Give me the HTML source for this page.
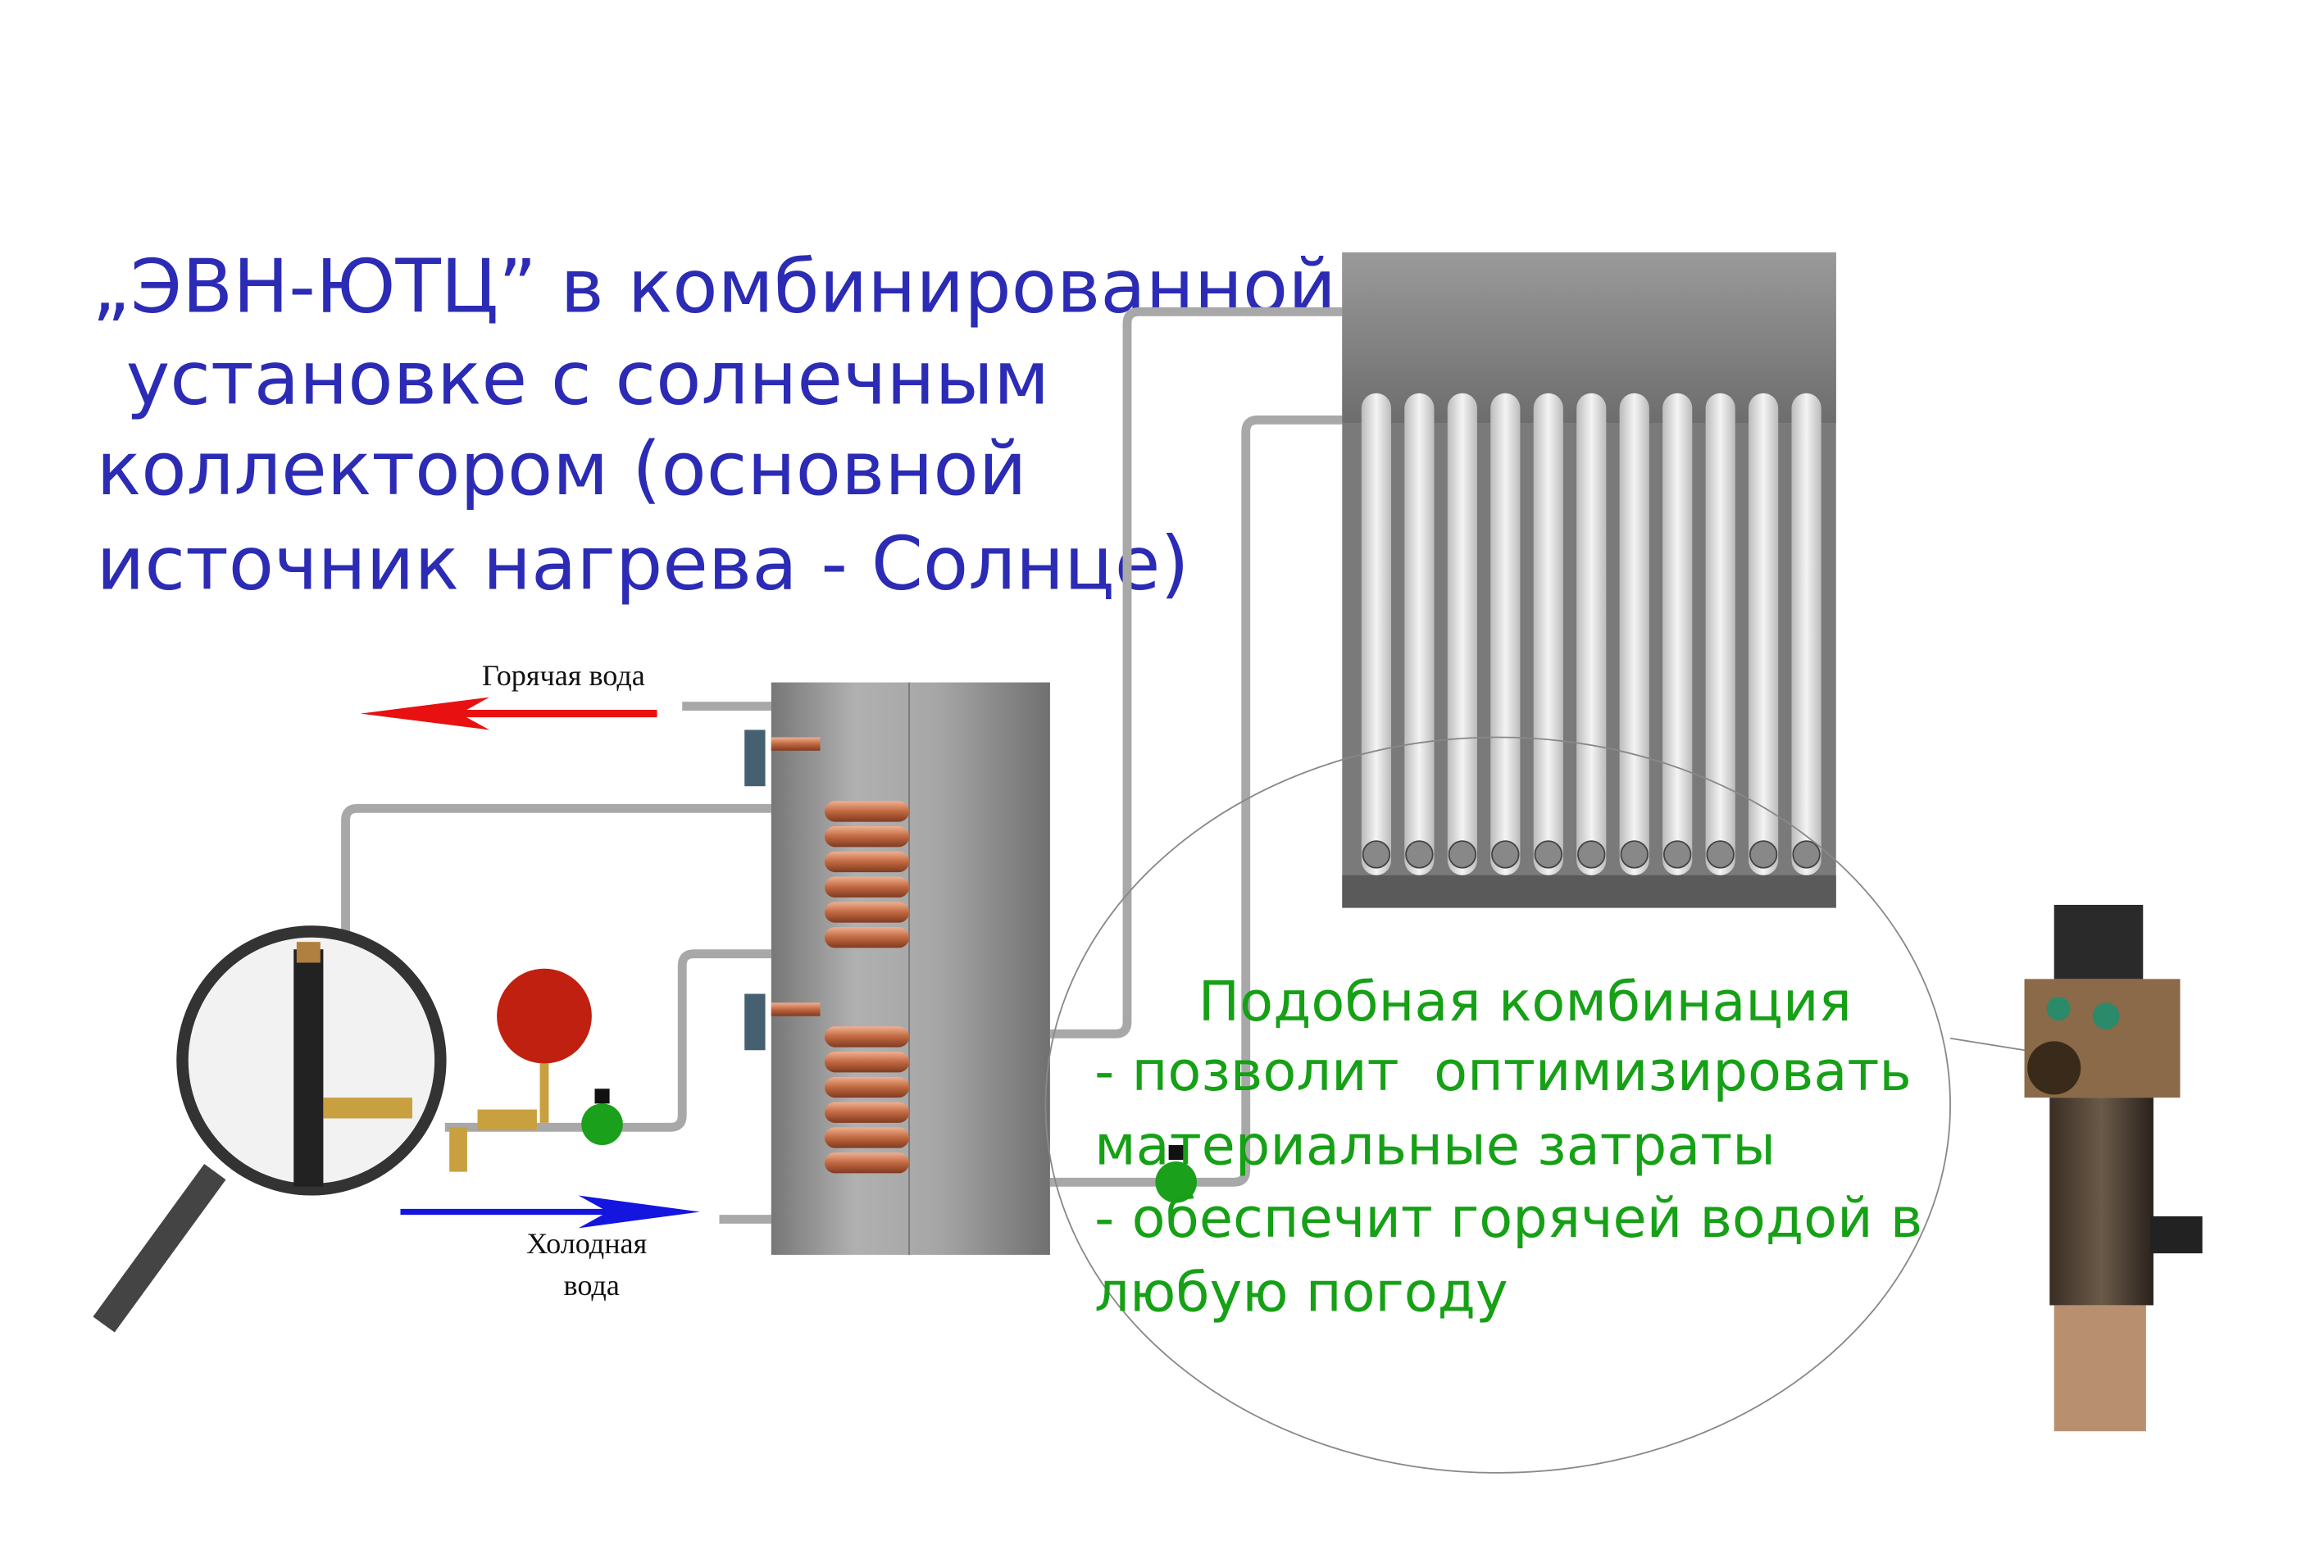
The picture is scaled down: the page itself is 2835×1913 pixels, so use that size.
<!DOCTYPE html>
<html><head><meta charset="utf-8"><style>
html,body{margin:0;padding:0;background:#fff;}
svg{display:block;}
.t{font-family:"DejaVu Sans","Liberation Sans",sans-serif;fill:#2b2bb5;font-size:50px;}
.g{font-family:"DejaVu Sans","Liberation Sans",sans-serif;fill:#16a016;font-size:37px;}
.s{font-family:"Liberation Serif",serif;fill:#111;font-size:20px;}
</style></head><body>
<svg width="2835" height="1913" viewBox="0 0 1567 1057" xmlns="http://www.w3.org/2000/svg">
<defs>
<linearGradient id="tank" x1="0" x2="1"><stop offset="0" stop-color="#777"/><stop offset="0.3" stop-color="#b0b0b0"/><stop offset="0.6" stop-color="#a6a6a6"/><stop offset="1" stop-color="#707070"/></linearGradient>
<linearGradient id="hdr" x1="0" y1="0" x2="0" y2="1"><stop offset="0" stop-color="#9a9a9a"/><stop offset="1" stop-color="#6d6d6d"/></linearGradient>
<linearGradient id="tube" x1="0" x2="1"><stop offset="0" stop-color="#bbb"/><stop offset="0.5" stop-color="#f4f4f4"/><stop offset="1" stop-color="#bbb"/></linearGradient>
<linearGradient id="cu" x1="0" y1="0" x2="0" y2="1"><stop offset="0" stop-color="#f0b090"/><stop offset="0.5" stop-color="#c06840"/><stop offset="1" stop-color="#803a20"/></linearGradient>
<linearGradient id="brz" x1="0" x2="1"><stop offset="0" stop-color="#3a2e24"/><stop offset="0.5" stop-color="#6a5a48"/><stop offset="1" stop-color="#2a221c"/></linearGradient>
</defs>
<rect width="1567" height="1057" fill="#fff"/>
<text class="t" x="62" y="210">„ЭВН-ЮТЦ” в комбинированной</text>
<text class="t" x="85" y="272">установке с солнечным</text>
<text class="t" x="65" y="333">коллектором (основной</text>
<text class="t" x="65" y="397">источник нагрева - Солнце)</text>
<g fill="none" stroke="#a8a8a8" stroke-width="6">
<path d="M708 697 H752 Q760 697 760 689 V218 Q760 210 768 210 H905"/>
<path d="M708 797 H832 Q840 797 840 789 V291 Q840 283 848 283 H905"/>
<path d="M520 545 H241 Q233 545 233 553 V640"/>
<path d="M520 643 H468 Q460 643 460 651 V752 Q460 760 452 760 H300"/>
<path d="M460 476 H520"/>
<path d="M485 822 H520"/>
</g>
<rect x="905" y="170" width="333" height="442" fill="#7a7a7a"/>
<rect x="905" y="170" width="333" height="115" fill="url(#hdr)"/>
<rect x="905" y="590" width="333" height="22" fill="#5a5a5a"/>
<g fill="url(#tube)">
<rect x="918" y="265" width="20" height="325" rx="10"/><rect x="947" y="265" width="20" height="325" rx="10"/>
<rect x="976" y="265" width="20" height="325" rx="10"/><rect x="1005" y="265" width="20" height="325" rx="10"/>
<rect x="1034" y="265" width="20" height="325" rx="10"/><rect x="1063" y="265" width="20" height="325" rx="10"/>
<rect x="1092" y="265" width="20" height="325" rx="10"/><rect x="1121" y="265" width="20" height="325" rx="10"/>
<rect x="1150" y="265" width="20" height="325" rx="10"/><rect x="1179" y="265" width="20" height="325" rx="10"/>
<rect x="1208" y="265" width="20" height="325" rx="10"/>
</g>
<g fill="#888" stroke="#444">
<circle cx="928" cy="576" r="9"/><circle cx="957" cy="576" r="9"/><circle cx="986" cy="576" r="9"/><circle cx="1015" cy="576" r="9"/><circle cx="1044" cy="576" r="9"/><circle cx="1073" cy="576" r="9"/><circle cx="1102" cy="576" r="9"/><circle cx="1131" cy="576" r="9"/><circle cx="1160" cy="576" r="9"/><circle cx="1189" cy="576" r="9"/><circle cx="1218" cy="576" r="9"/>
</g>
<rect x="520" y="460" width="188" height="386" fill="url(#tank)"/>
<line x1="613" y1="460" x2="613" y2="846" stroke="#777"/>
<g fill="url(#cu)">
<rect x="556" y="540" width="57" height="14" rx="7"/><rect x="556" y="557" width="57" height="14" rx="7"/><rect x="556" y="574" width="57" height="14" rx="7"/><rect x="556" y="591" width="57" height="14" rx="7"/><rect x="556" y="608" width="57" height="14" rx="7"/><rect x="556" y="625" width="57" height="14" rx="7"/>
<rect x="556" y="692" width="57" height="14" rx="7"/><rect x="556" y="709" width="57" height="14" rx="7"/><rect x="556" y="726" width="57" height="14" rx="7"/><rect x="556" y="743" width="57" height="14" rx="7"/><rect x="556" y="760" width="57" height="14" rx="7"/><rect x="556" y="777" width="57" height="14" rx="7"/>
<rect x="520" y="497" width="33" height="9"/><rect x="520" y="676" width="33" height="9"/>
</g>
<rect x="502" y="492" width="14" height="38" fill="#456070"/><rect x="502" y="670" width="14" height="38" fill="#456070"/>
<circle cx="793" cy="797" r="14" fill="#1aa01a"/><rect x="788" y="772" width="10" height="10" fill="#111"/>
<circle cx="406" cy="758" r="14" fill="#1aa01a"/><rect x="401" y="734" width="10" height="10" fill="#111"/>
<circle cx="367" cy="685" r="32" fill="#c02010"/>
<rect x="364" y="717" width="6" height="40" fill="#c8a040"/>
<rect x="322" y="748" width="40" height="14" fill="#c8a040"/>
<rect x="303" y="760" width="12" height="30" fill="#c8a040"/>
<line x1="443" y1="481" x2="270" y2="481" stroke="#e81010" stroke-width="5"/>
<polygon points="243,481 330,470 310,481 330,492" fill="#e81010"/>
<text class="s" x="325" y="462">Горячая вода</text>
<line x1="270" y1="817" x2="440" y2="817" stroke="#1515e0" stroke-width="4"/>
<polygon points="472,817 390,806 410,817 390,828" fill="#1515e0"/>
<text class="s" x="355" y="845">Холодная</text>
<text class="s" x="380" y="873">вода</text>
<line x1="145" y1="790" x2="70" y2="893" stroke="#444" stroke-width="18"/>
<circle cx="210" cy="715" r="87" fill="#f2f2f2" stroke="#333" stroke-width="8"/>
<rect x="198" y="640" width="20" height="160" fill="#222"/>
<rect x="200" y="635" width="16" height="14" fill="#b08040"/>
<rect x="218" y="740" width="60" height="14" fill="#c8a040"/>
<ellipse cx="1010" cy="745" rx="305" ry="248" fill="none" stroke="#888" stroke-width="1"/>
<line x1="1315" y1="700" x2="1365" y2="708" stroke="#888" stroke-width="1"/>
<text class="g" x="808" y="688">Подобная комбинация</text>
<text class="g" x="738" y="735" xml:space="preserve">- позволит  оптимизировать</text>
<text class="g" x="738" y="785">материальные затраты</text>
<text class="g" x="738" y="834">- обеспечит горячей водой в</text>
<text class="g" x="738" y="884">любую погоду</text>
<rect x="1385" y="610" width="60" height="50" fill="#2a2a2a"/>
<rect x="1365" y="660" width="105" height="80" fill="#8a6a48"/>
<circle cx="1385" cy="720" r="18" fill="#3a2a1a"/>
<rect x="1382" y="740" width="70" height="140" fill="url(#brz)"/>
<rect x="1450" y="820" width="35" height="25" fill="#222"/>
<rect x="1385" y="880" width="62" height="85" fill="#b89070"/>
<circle cx="1388" cy="680" r="8" fill="#2a8a6a"/><circle cx="1420" cy="685" r="9" fill="#2a8a6a"/>
</svg>
</body></html>
